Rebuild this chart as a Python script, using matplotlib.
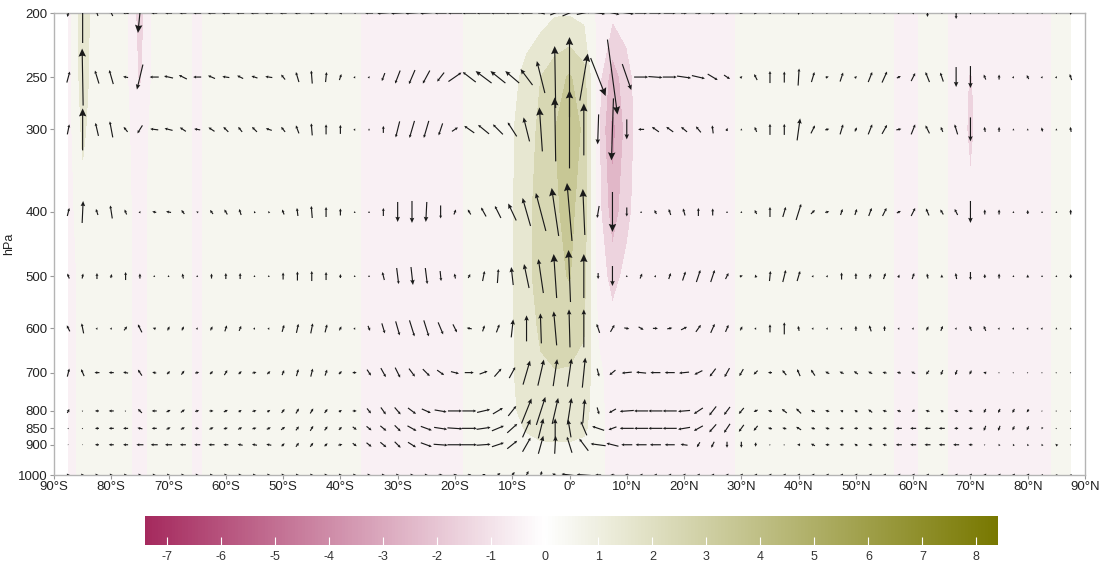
import numpy as np
import matplotlib
matplotlib.use('Agg')
import matplotlib.pyplot as plt
from matplotlib.colors import LinearSegmentedColormap, Normalize
from matplotlib.cm import ScalarMappable

plt.rcParams['font.family'] = ['Liberation Sans', 'DejaVu Sans']
plt.rcParams['axes.unicode_minus'] = False

# grid: latitude every 2.5 deg, pressure levels in hPa
lats = np.arange(-87.5, 88, 2.5)
levels = [200, 250, 300, 400, 500, 600, 700, 800, 850, 900, 1000]
lat_ticks = [-90, -80, -70, -60, -50, -40, -30, -20, -10, 0, 10, 20, 30, 40, 50, 60, 70, 80, 90]
lat_labels = ['90°S', '80°S', '70°S', '60°S', '50°S', '40°S', '30°S', '20°S', '10°S', '0°',
              '10°N', '20°N', '30°N', '40°N', '50°N', '60°N', '70°N', '80°N', '90°N']
cbar_ticks = [-7, -6, -5, -4, -3, -2, -1, 0, 1, 2, 3, 4, 5, 6, 7, 8]

# meridional wind component per level
v_200 = [-2, 0, -2, -3, -6, -4, -6, -7, -7, -8,
         -8, -8, -8, -8, -8, -7, -6, -5, -4, -3,
         -2, -8, -12, -13, -13, -12, -12, -14, -14, -14,
         -14, -13, -12, -8, 10, 14, 14, 14, 14, 14,
         12, 12, 12, 6, 6, 5, 4, 3, 3, 2,
         2, 0, 2, 2, 2, 2, 2, 2, 2, 1,
         0, 1, 0, 0, 2, 2, 2, 2, 1, 1,
         0]
v_250 = [3, -1, -4, -4, -5, -6, -9, -9, -8, -8,
         -7, -7, -6, -6, -7, -4, -3, -1, 1, 2,
         1, 1, -3, -5, -6, -7, -7, 13, -13, -16,
         -15, -14, -12, -8, -1, 0, 8, 15, 10, 9,
         14, 14, 14, 14, 13, 10, 6, 2, -3, 0,
         0, 1, 3, 3, 3, 2, 4, 5, 4, 4,
         -4, -3, 0, 0, -2, 0, 1, -2, 1, 1,
         -2]
v_300 = [2, 0, -3, -3, -4, -5, -8, -8, -6, -6,
         -6, -5, -4, -5, -6, -4, -3, -1, 0, 0,
         1, 0, 0, -4, -5, -5, -4, 6, -10, -11,
         -10, -9, -6, -3, -1, 0, 0, -1, -2, 0,
         -6, -7, -7, -6, -5, -1, 1, 0, -2, 0,
         0, 3, 4, 4, 3, 2, 4, 5, 5, 4,
         -4, -2, -3, 0, -1, 0, 0, 0, -1, 0,
         -1]
v_400 = [2, 1, -2, -2, -2, 1, -4, -5, -3, -2,
         -3, -3, -2, -1, -1, -2, -1, -1, 0, 0,
         0, 0, 0, 0, 0, -1, 0, 2, -3, -5,
         -6, -8, -8, -10, -7, -5, -2, -2, 0, 0,
         0, -2, -2, -2, 0, 0, 0, 0, -2, 0,
         3, 5, 4, 4, 2, 2, 3, 4, 4, 4,
         -3, -3, -3, 0, 0, 0, 0, 0, 0, 0,
         0]
v_500 = [-2, 1, 0, 1, 0, 0, 0, 0, -1, 0,
         0, 0, 0, 0, 0, 0, 0, 0, 0, 0,
         0, 0, -2, 2, 2, 2, 1, -1, 2, 2,
         1, -2, -5, -5, -3, -2, 0, 0, 0, 0,
         2, 1, 2, 3, 4, 4, 3, 3, -1, 1,
         3, 3, 1, 1, 0, 0, 1, 2, 1, 2,
         -1, 0, -1, 0, 0, 0, 0, 0, 0, 0,
         0]
v_600 = [-3, -2, 1, 1, 3, -4, -3, 2, 2, 1,
         2, 2, 2, 1, 1, 2, 2, 2, 2, 2,
         1, 2, 3, 4, 5, 5, 5, 4, -5, 2,
         3, 2, 0, -1, -3, -1, 0, -3, 4, 5,
         5, 5, 5, 6, 5, 4, 3, 2, 1, 0,
         0, -1, 1, 1, 1, 0, -2, 0, 1, 1,
         2, 2, 1, -2, -2, 1, 1, 1, 1, 0,
         0]
v_700 = [2, -3, -5, -5, -5, -4, -4, 3, 3, 4,
         3, 3, 3, 4, 3, 2, 2, 2, 2, 3,
         4, 4, 5, 5, 6, 7, 7, 8, 9, 8,
         7, 6, 7, 6, 4, 4, 3, 2, -6, -10,
         -10, -10, -10, -10, -8, -6, -5, -4, -4, -4,
         -4, -3, -4, -4, -4, -4, -4, -4, -4, -4,
         -3, -2, -2, -2, -3, 1, 1, 1, 1, 1,
         1]
v_800 = [2, 1, -4, -5, 1, -4, -5, 4, 4, 4,
         4, 4, 3, 4, 3, 3, 3, 3, 3, 3,
         4, 4, 5, 6, 8, 9, 12, 14, 14, 13,
         10, 8, 10, 9, 6, 4, 2, 2, -7, -14,
         -14, -14, -14, -12, -9, -7, -6, -5, -4, -4,
         -5, -5, -4, -4, -3, -3, -4, -4, -4, -3,
         -4, -3, -4, -4, -2, -2, -2, -2, 1, 1,
         1]
v_850 = [1, 1, -4, -5, -5, -5, -5, 4, 4, 4,
         4, 4, 4, 4, 4, 4, 3, 3, 3, 3,
         4, 5, 6, 6, 9, 11, 13, 15, 15, 14,
         12, 10, 8, 5, 0, -3, -6, -12, -8, -14,
         -14, -14, -14, -12, -9, -7, -6, -5, -4, -4,
         -4, -5, -4, -4, -4, -4, -4, -4, -6, -6,
         -6, -6, -4, -4, -2, -2, -2, -2, -1, 1,
         1]
v_900 = [1, 1, -4, -5, -5, -7, -7, -7, -6, -6,
         -6, -5, -5, -5, -5, 3, 3, 3, 3, 4,
         4, 5, 6, 6, 8, 11, 14, 15, 15, 14,
         12, 10, 8, 5, 1, -5, -9, -15, -12, -11,
         -11, -11, -10, -7, -3, -3, 0, 0, 0, 1,
         1, -3, -4, -4, -4, -3, -4, -4, -6, -6,
         -6, -6, -6, -4, 1, -1, -1, -1, -1, -2,
         1]
v_1000 = [3, 3, 3, 3, 3, 3, 3, 3, 3, 3,
          3, 3, 3, 3, 3, 3, 3, 3, 3, 3,
          3, 3, 3, 3, 3, 3, 4, 4, 4, 4,
          5, 5, 4, 2, -6, -16, -14, -6, -4, -4,
          -3, -3, -3, -3, -3, -3, -3, -3, -3, -3,
          -3, -3, -3, -3, -3, -3, -3, -3, -3, -3,
          -3, -3, -3, -3, -3, -3, -3, -3, -2, -2,
          -2]

# vertical motion (scaled, upward positive) per level
w_200 = [-8, 60, 6, 6, 1, -40, 0, 0, 0, 0,
         0, 0, 0, 0, 0, 0, 0, 0, 0, 0,
         0, 0, -1, -1, -1, -1, 0, 0, 0, 0,
         0, 0, 0, 2, 4, 6, 3, -2, -3, -2,
         0, 0, 0, 0, 0, 0, 0, -1, 0, -2,
         0, -4, 0, 0, 0, 0, -1, 0, 0, -3,
         -8, -2, -12, -3, 0, 0, -1, 0, -2, -2,
         -4]
w_250 = [11, 57, 13, 14, 1, -25, 0, 2, 4, 0,
         3, 1, 3, 2, 1, 5, 10, 13, 10, 6,
         2, 2, -8, -13, -14, -13, -9, 9, 10, 12,
         12, 12, 16, 32, 62, 80, 47, -38, -75, -26,
         0, -1, 0, -2, -3, -6, -4, 2, 6, 12,
         11, 17, 10, 1, 9, 2, 10, 11, 2, 8,
         10, 9, -20, -22, 5, 5, 2, 4, 2, 2,
         6]
w_300 = [10, 42, 13, 16, 5, -8, 1, 2, 4, 1,
         4, 5, 5, 5, 2, 5, 8, 12, 10, 9,
         2, 2, 7, -16, -17, -17, -12, 4, 7, 9,
         10, 14, 24, 44, 64, 78, 52, -30, -62, -20,
         0, 5, 5, 5, 6, 8, 3, 2, 5, 11,
         11, 22, 8, 1, 10, 4, 10, 9, 1, 10,
         8, 5, 10, -24, 5, 5, 2, 2, 4, 2,
         5]
w_400 = [8, 22, 6, 13, 5, 2, 1, 1, 4, 1,
         4, 5, 6, 2, 2, 5, 8, 12, 10, 7,
         2, 2, 8, -20, -22, -20, -13, 5, 5, 9,
         12, 17, 28, 38, 48, 58, 46, -12, -40, -9,
         2, 4, 6, 7, 8, 7, 2, 2, 4, 10,
         10, 16, 4, 1, 6, 6, 8, 8, 2, 8,
         7, 5, 6, -22, 5, 5, 2, 4, 2, 2,
         5]
w_500 = [5, 5, 6, 4, 8, 5, 2, 2, 5, 2,
         5, 6, 6, 2, 2, 7, 9, 10, 8, 4,
         2, 2, 8, -16, -18, -16, -10, 5, 4, 10,
         14, 18, 24, 34, 44, 52, 44, -6, -20, 2,
         5, 2, 6, 9, 12, 12, 6, 1, 3, 10,
         12, 10, 2, 2, 7, 6, 5, 6, 3, 6,
         5, 3, 6, -8, 4, 5, 2, 3, 2, 2,
         4]
w_600 = [6, 10, 2, 2, 4, 8, 1, 4, 4, 2,
         4, 6, 5, 2, 2, 7, 9, 10, 8, 4,
         2, -5, -10, -14, -16, -16, -12, -8, 1, 6,
         8, 18, 26, 30, 34, 38, 38, 9, 7, -1,
         -3, 0, 1, 3, 7, 9, 7, 4, 2, 8,
         12, 5, 2, 2, 2, 5, 6, 5, 2, 2,
         4, 5, 2, 5, 5, 2, 2, 2, 2, 2,
         2]
w_700 = [8, 7, 0, 0, 1, 6, 1, 3, 4, 1,
         3, 5, 3, 1, 3, 5, 7, 8, 6, 3,
         0, -6, -9, -10, -8, -7, -5, -2, 0, 3,
         8, 11, 24, 26, 27, 28, 30, -8, -5, -1,
         1, 0, 0, -1, -4, -8, -9, -7, -4, 0,
         5, 7, 6, 2, 2, 3, 2, 1, 1, 2,
         -4, -5, -5, -4, 1, 1, 1, 1, 1, 1,
         1]
w_800 = [4, 1, 0, 0, 1, 4, 0, 2, 3, 1,
         0, 2, 2, 1, 2, 4, 5, 5, 4, 2,
         0, -5, -7, -7, -6, -4, -2, 0, 0, 3,
         6, 10, 25, 28, 26, 26, 24, -7, -4, -1,
         0, 0, 0, -1, -6, -9, -8, -6, -2, 1,
         4, 5, 2, 1, 1, 2, 3, 1, 1, -2,
         1, 2, 1, 1, -4, -4, -4, -3, 1, 1,
         1]
w_850 = [1, 1, 0, 0, 0, 1, 0, 2, 2, 0,
         2, 1, 2, 1, 2, 3, 4, 5, 4, 3,
         -3, -4, -5, -6, -5, -4, -2, -1, 0, 2,
         5, 9, 18, 20, 20, 18, 14, 4, -3, 0,
         0, 0, 0, -2, -5, -8, -9, -7, -5, 1,
         1, 3, 1, 1, 0, 0, 1, 0, 0, 0,
         0, 0, 0, 0, -5, -5, -4, -4, -2, 1,
         1]
w_900 = [0, 0, 0, 0, 0, 0, 0, 0, 0, 0,
         0, 0, 1, 1, 1, 3, 4, 4, 3, 1,
         -3, -4, -5, -6, -5, -4, -1, 0, 0, 1,
         4, 8, 14, 18, 18, 16, 12, 2, 3, 0,
         0, 0, 0, 1, -5, -6, -6, -6, -4, 1,
         1, 0, 2, 0, 0, 2, 1, 1, 0, 0,
         0, 0, 0, 0, 1, 2, 2, 2, 2, 2,
         1]
w_1000 = [0, 0, 0, 0, 0, 0, 0, 0, 0, 0,
          0, 0, 0, 0, 0, 0, 0, 0, 0, 0,
          0, 0, 0, 0, 0, 0, 0, 1, 1, 2,
          4, 6, 8, 8, 3, 2, 1, 0, 0, 0,
          0, 0, 0, 0, 0, 0, 0, 0, 0, 0,
          0, 0, 0, 0, 0, 0, 0, 0, 0, 0,
          0, 0, 0, 0, 0, 0, 0, 0, 0, 0,
          0]

# shaded anomaly field per level
shade_200 = [-0.4, 1.6, 0.3, 0.3, 0.2, -1.5, 0.3, 0.3, 0.3, -0.2,
             0.3, 0.3, 0.3, 0.3, 0.3, 0.3, 0.3, 0.3, 0.3, 0.3,
             0.3, -0.4, -0.4, -0.4, -0.4, -0.4, -0.4, -0.4, 0.3, 0.3,
             0.3, 0.3, 0.5, 0.6, 0.9, 0.9, 0.7, -0.2, -0.8, -0.6,
             -0.4, -0.4, -0.4, -0.4, -0.4, -0.4, -0.4, 0.3, 0.3, 0.3,
             0.3, 0.3, 0.3, 0.3, 0.3, 0.3, 0.3, 0.3, -0.2, -0.2,
             0.3, 0.3, -0.4, -0.4, -0.4, -0.4, -0.4, -0.4, -0.4, 0.2,
             0.2]
shade_250 = [-0.4, 1.5, 0.3, 0.3, 0.2, -1.2, 0.3, 0.3, 0.3, -0.2,
             0.3, 0.3, 0.3, 0.3, 0.3, 0.3, 0.3, 0.3, 0.3, 0.3,
             0.3, -0.4, -0.4, -0.4, -0.4, -0.4, -0.4, -0.4, 0.3, 0.3,
             0.3, 0.7, 1.3, 2.0, 2.6, 3.1, 2.4, -0.6, -2.6, -1.4,
             -0.4, -0.4, -0.4, -0.4, -0.4, -0.4, -0.4, 0.3, 0.3, 0.3,
             0.3, 0.3, 0.3, 0.3, 0.3, 0.3, 0.3, 0.3, -0.2, -0.2,
             0.3, 0.3, -0.4, -1.1, -0.4, -0.4, -0.4, -0.4, -0.4, 0.2,
             0.2]
shade_300 = [-0.4, 1.2, 0.3, 0.3, 0.2, -0.5, 0.3, 0.3, 0.3, -0.2,
             0.3, 0.3, 0.3, 0.3, 0.3, 0.3, 0.3, 0.3, 0.3, 0.3,
             0.3, -0.4, -0.4, -0.4, -0.4, -0.4, -0.4, -0.4, 0.3, 0.3,
             0.3, 0.9, 1.6, 2.2, 3.0, 3.6, 2.8, -0.8, -3.4, -1.6,
             -0.4, -0.4, -0.4, -0.4, -0.4, -0.4, -0.4, 0.3, 0.3, 0.3,
             0.3, 0.3, 0.3, 0.3, 0.3, 0.3, 0.3, 0.3, -0.2, -0.2,
             0.3, 0.3, -0.4, -1.2, -0.4, -0.4, -0.4, -0.4, -0.4, 0.2,
             0.2]
shade_400 = [-0.4, 0.6, 0.3, 0.3, 0.2, -0.3, 0.3, 0.3, 0.3, -0.2,
             0.3, 0.3, 0.3, 0.3, 0.3, 0.3, 0.3, 0.3, 0.3, 0.3,
             0.3, -0.4, -0.4, -0.4, -0.4, -0.4, -0.4, -0.4, 0.3, 0.3,
             0.3, 0.9, 1.8, 2.3, 2.9, 3.2, 2.6, -0.6, -2.6, -1.3,
             -0.4, -0.4, -0.4, -0.4, -0.4, -0.4, -0.4, 0.3, 0.3, 0.3,
             0.3, 0.3, 0.3, 0.3, 0.3, 0.3, 0.3, 0.3, -0.2, -0.2,
             0.3, 0.3, -0.4, -0.8, -0.4, -0.4, -0.4, -0.4, -0.4, 0.2,
             0.2]
shade_500 = [-0.4, 0.3, 0.3, 0.3, 0.2, -0.3, 0.3, 0.3, 0.3, -0.2,
             0.3, 0.3, 0.3, 0.3, 0.3, 0.3, 0.3, 0.3, 0.3, 0.3,
             0.3, -0.4, -0.4, -0.4, -0.4, -0.4, -0.4, -0.4, 0.3, 0.3,
             0.3, 0.9, 1.8, 2.3, 2.8, 3.05, 2.3, -0.4, -1.4, -0.7,
             -0.4, -0.4, -0.4, -0.4, -0.4, -0.4, -0.4, 0.3, 0.3, 0.3,
             0.3, 0.3, 0.3, 0.3, 0.3, 0.3, 0.3, 0.3, -0.2, -0.2,
             0.3, 0.3, -0.4, -0.4, -0.4, -0.4, -0.4, -0.4, -0.4, 0.2,
             0.2]
shade_600 = [-0.4, 0.3, 0.3, 0.3, 0.2, -0.3, 0.3, 0.3, 0.3, -0.2,
             0.3, 0.3, 0.3, 0.3, 0.3, 0.3, 0.3, 0.3, 0.3, 0.3,
             0.3, -0.4, -0.4, -0.4, -0.4, -0.4, -0.4, -0.4, 0.3, 0.3,
             0.3, 0.9, 1.7, 2.1, 2.5, 2.5, 2.1, -0.1, -0.6, -0.5,
             -0.4, -0.4, -0.4, -0.4, -0.4, -0.4, -0.4, 0.3, 0.3, 0.3,
             0.3, 0.3, 0.3, 0.3, 0.3, 0.3, 0.3, 0.3, -0.2, -0.2,
             0.3, 0.3, -0.4, -0.4, -0.4, -0.4, -0.4, -0.4, -0.4, 0.2,
             0.2]
shade_700 = [-0.4, 0.3, 0.3, 0.3, 0.2, -0.3, 0.3, 0.3, 0.3, -0.2,
             0.3, 0.3, 0.3, 0.3, 0.3, 0.3, 0.3, 0.3, 0.3, 0.3,
             0.3, -0.4, -0.4, -0.4, -0.4, -0.4, -0.4, -0.4, 0.3, 0.3,
             0.3, 0.9, 1.6, 1.9, 1.95, 1.9, 1.7, 0.2, -0.4, -0.4,
             -0.4, -0.4, -0.4, -0.4, -0.4, -0.4, -0.4, 0.3, 0.3, 0.3,
             0.3, 0.3, 0.3, 0.3, 0.3, 0.3, 0.3, 0.3, -0.2, -0.2,
             0.3, 0.3, -0.4, -0.4, -0.4, -0.4, -0.4, -0.4, -0.4, 0.2,
             0.2]
shade_800 = [-0.4, 0.3, 0.3, 0.3, 0.2, -0.3, 0.3, 0.3, 0.3, -0.2,
             0.3, 0.3, 0.3, 0.3, 0.3, 0.3, 0.3, 0.3, 0.3, 0.3,
             0.3, -0.4, -0.4, -0.4, -0.4, -0.4, -0.4, -0.4, 0.3, 0.3,
             0.3, 0.8, 1.4, 1.6, 1.7, 1.6, 1.4, 0.3, -0.4, -0.4,
             -0.4, -0.4, -0.4, -0.4, -0.4, -0.4, -0.4, 0.3, 0.3, 0.3,
             0.3, 0.3, 0.3, 0.3, 0.3, 0.3, 0.3, 0.3, -0.2, -0.2,
             0.3, 0.3, -0.4, -0.4, -0.4, -0.4, -0.4, -0.4, -0.4, 0.2,
             0.2]
shade_850 = [-0.4, 0.3, 0.3, 0.3, 0.2, -0.3, 0.3, 0.3, 0.3, -0.2,
             0.3, 0.3, 0.3, 0.3, 0.3, 0.3, 0.3, 0.3, 0.3, 0.3,
             0.3, -0.4, -0.4, -0.4, -0.4, -0.4, -0.4, -0.4, 0.3, 0.3,
             0.3, 0.6, 1.1, 1.3, 1.4, 1.4, 1.2, 0.3, -0.4, -0.4,
             -0.4, -0.4, -0.4, -0.4, -0.4, -0.4, -0.4, 0.3, 0.3, 0.3,
             0.3, 0.3, 0.3, 0.3, 0.3, 0.3, 0.3, 0.3, -0.2, -0.2,
             0.3, 0.3, -0.4, -0.4, -0.4, -0.4, -0.4, -0.4, -0.4, 0.2,
             0.2]
shade_900 = [-0.4, 0.3, 0.3, 0.3, 0.2, -0.3, 0.3, 0.3, 0.3, -0.2,
             0.3, 0.3, 0.3, 0.3, 0.3, 0.3, 0.3, 0.3, 0.3, 0.3,
             0.3, -0.4, -0.4, -0.4, -0.4, -0.4, -0.4, -0.4, 0.3, 0.3,
             0.3, 0.4, 0.7, 0.9, 0.9, 0.9, 0.8, 0.3, -0.4, -0.4,
             -0.4, -0.4, -0.4, -0.4, -0.4, -0.4, -0.4, 0.3, 0.3, 0.3,
             0.3, 0.3, 0.3, 0.3, 0.3, 0.3, 0.3, 0.3, -0.2, -0.2,
             0.3, 0.3, -0.4, -0.4, -0.4, -0.4, -0.4, -0.4, -0.4, 0.2,
             0.2]
shade_1000 = [-0.4, 0.3, 0.3, 0.3, 0.2, -0.3, 0.3, 0.3, 0.3, -0.2,
              0.3, 0.3, 0.3, 0.3, 0.3, 0.3, 0.3, 0.3, 0.3, 0.3,
              0.3, -0.4, -0.4, -0.4, -0.4, -0.4, -0.4, -0.4, 0.3, 0.3,
              0.3, 0.3, 0.4, 0.5, 0.5, 0.5, 0.4, 0.3, -0.4, -0.4,
              -0.4, -0.4, -0.4, -0.4, -0.4, -0.4, -0.4, 0.3, 0.3, 0.3,
              0.3, 0.3, 0.3, 0.3, 0.3, 0.3, 0.3, 0.3, -0.2, -0.2,
              0.3, 0.3, -0.4, -0.4, -0.4, -0.4, -0.4, -0.4, -0.4, 0.2,
              0.2]

V = np.array([v_200, v_250, v_300, v_400, v_500, v_600, v_700, v_800, v_850, v_900, v_1000], dtype=float)
W = np.array([w_200, w_250, w_300, w_400, w_500, w_600, w_700, w_800, w_850, w_900, w_1000], dtype=float)
S = np.array([shade_200, shade_250, shade_300, shade_400, shade_500, shade_600,
              shade_700, shade_800, shade_850, shade_900, shade_1000])
X, Y = np.meshgrid(lats, levels)

vmin, vmax = -7.4, 8.4
cmap = LinearSegmentedColormap.from_list(
    'pink_olive', [(0.0, '#a52a5e'), (-vmin / (vmax - vmin), '#ffffff'), (1.0, '#787800')])
norm = Normalize(vmin=vmin, vmax=vmax)

fig = plt.figure(figsize=(11.04, 5.63), dpi=100)
ax = fig.add_axes([54 / 1104, 1 - 475 / 563, 1031 / 1104, 462 / 563])

ax.contourf(X, Y, S, levels=np.arange(-8, 10, 1), cmap=cmap, norm=norm, zorder=1)

# arrows drawn in three size classes so heads grow with the vector
mag = np.hypot(V, W)
head_styles = [
    (mag < 18, dict(headwidth=2.6, headlength=2.6, headaxislength=2.3)),
    ((mag >= 18) & (mag < 40), dict(headwidth=4.0, headlength=4.5, headaxislength=4.0)),
    (mag >= 40, dict(headwidth=6.5, headlength=7.0, headaxislength=6.2)),
]
for sel, hs in head_styles:
    ax.quiver(X[sel], Y[sel], V[sel], W[sel], units='dots', width=1.15,
              scale_units='dots', scale=1, angles='uv', pivot='middle',
              minshaft=1, minlength=0.5, color='#1a1a1a', zorder=3, **hs)

ax.set_yscale('log')
ax.set_ylim(1000, 200)
ax.set_xlim(-90, 90)
ax.set_yticks(levels)
ax.set_yticklabels([str(p) for p in levels])
ax.yaxis.set_minor_locator(matplotlib.ticker.NullLocator())
ax.set_xticks(lat_ticks)
ax.set_xticklabels(lat_labels)
ax.tick_params(axis='both', colors='#999999', labelcolor='#222222', labelsize=9.5,
               length=3, width=0.8, pad=1.5)
for sp in ax.spines.values():
    sp.set_color('#b4b4b4')
    sp.set_linewidth(1.0)
ax.set_ylabel('hPa', fontsize=9, color='#222222')
ax.yaxis.set_label_coords(-0.038, 0.5)

# colorbar
cax = fig.add_axes([145 / 1104, 1 - 545 / 563, 853 / 1104, 29 / 563])
sm = ScalarMappable(norm=norm, cmap=cmap)
cbar = fig.colorbar(sm, cax=cax, orientation='horizontal', ticks=cbar_ticks)
cbar.outline.set_visible(False)
cax.tick_params(direction='in', color='white', length=6, width=0.8,
                labelcolor='#333333', labelsize=9, pad=4)

plt.savefig('out.png', dpi=100)
